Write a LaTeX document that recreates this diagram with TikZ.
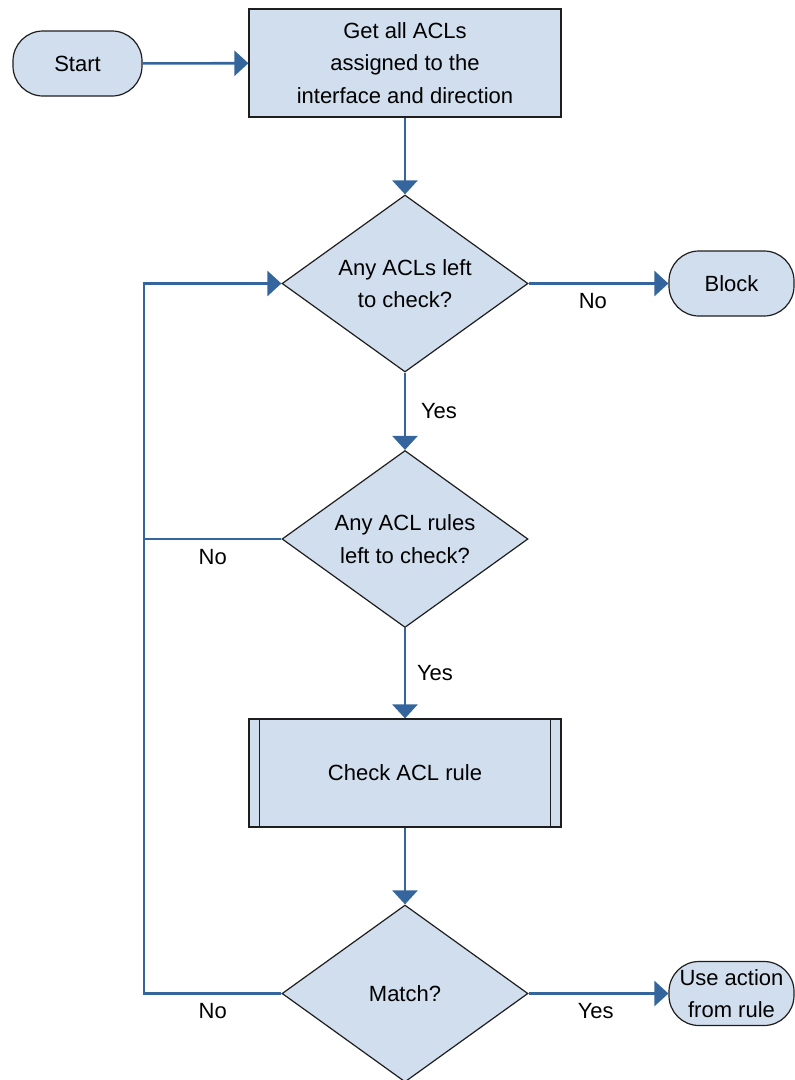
\documentclass[tikz,border=0pt]{standalone}
\usepackage{fontspec}
\setmainfont{Liberation Sans}
\usetikzlibrary{arrows.meta,shapes.geometric}
\definecolor{boxfill}{RGB}{209,222,238}
\definecolor{flowblue}{RGB}{52,101,156}
\definecolor{edgegray}{RGB}{30,30,30}
\tikzset{
  base/.style={draw=edgegray, line width=1.2pt, fill=boxfill, align=center,
    font=\fontsize{22}{32.5}\selectfont, inner sep=0pt},
  terminal/.style={base, rounded corners=30pt, minimum height=65pt},
  process/.style={base, minimum width=312pt, minimum height=108pt},
  decision/.style={base, shape=diamond, aspect=1.39, minimum width=246pt, minimum height=177pt},
  flow/.style={draw=flowblue, line width=2.6pt, -{Triangle[length=14pt,width=25pt]}},
  plain/.style={draw=flowblue, line width=2.6pt},
  lbl/.style={font=\fontsize{22}{26}\selectfont, inner sep=0pt}
}
\begin{document}
\begin{tikzpicture}[x=1pt,y=-1pt]
\useasboundingbox (0,0) rectangle (795,1080);

% nodes
\node[terminal, minimum width=129pt] (start) at (77.5,63.5) {Start};
\node[process] (get) at (405,63) {Get all ACLs\\assigned to the\\interface and direction};
\node[decision] (d1) at (405,283.5) {Any ACLs left\\to check?};
\node[terminal, minimum width=125pt] (block) at (731.5,283.5) {Block};
\node[decision] (d2) at (405,539) {Any ACL rules\\left to check?};
\node[process] (check) at (405,773) {Check ACL rule};
\draw[edgegray, line width=1.2pt] ([xshift=11pt]check.north west) -- ([xshift=11pt]check.south west)
      ([xshift=-11pt]check.north east) -- ([xshift=-11pt]check.south east);
\node[decision] (d3) at (405,993.5) {Match?};
\node[terminal, minimum width=125pt, minimum height=64pt] (use) at (731.5,993.5) {Use action\\from rule};

% loop-back corners
\coordinate (c1) at (144,993.5);
\coordinate (c2) at (144,283.5);
\coordinate (c3) at (144,539);

% connectors
\draw[flow] (start) -- (get);
\draw[flow] (get) -- (d1);
\draw[flow] (d1) -- node[lbl, pos=0.46, yshift=-18pt] {No} (block);
\draw[flow] (d1) -- node[lbl, midway, xshift=34pt] {Yes} (d2);
\draw[flow] (d2) -- node[lbl, midway, xshift=30pt] {Yes} (check);
\draw[flow] (check) -- (d3);
\draw[flow] (d3) -- node[lbl, pos=0.48, yshift=-18pt] {Yes} (use);
\draw[plain] (d2.west) -- node[lbl, midway, yshift=-18pt] {No} (c3);
\draw[flow] (d3.west) -- node[lbl, midway, yshift=-18pt] {No} (c1) -- (c2) -- (d1.west);
\end{tikzpicture}
\end{document}
